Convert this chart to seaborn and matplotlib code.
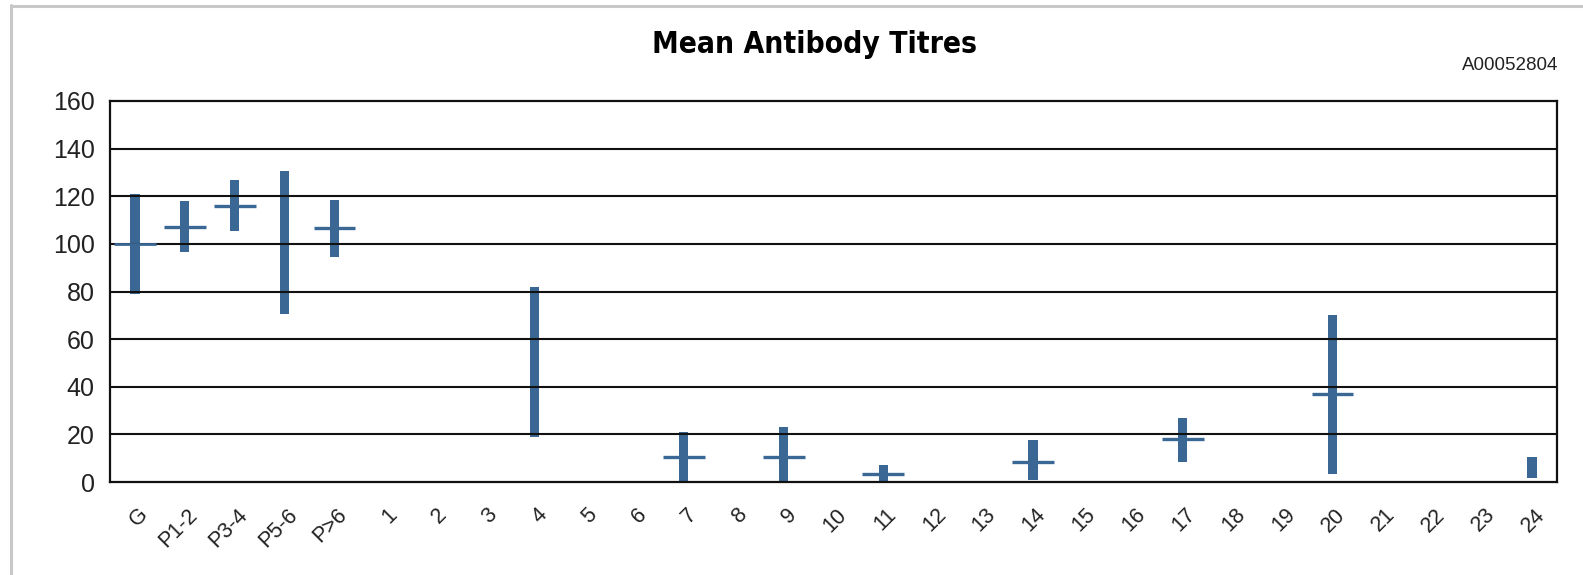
import matplotlib
matplotlib.use("Agg")
import matplotlib.pyplot as plt
from matplotlib.lines import Line2D
from matplotlib.transforms import ScaledTranslation
import numpy as np
import pandas as pd
import seaborn as sns

# Groups shown along the x axis (G, parity groups, then weeks 1-24)
categories = ["G", "P1-2", "P3-4", "P5-6", "P>6"] + [str(i) for i in range(1, 25)]

# Groups that have a measured range
range_groups = ["G", "P1-2", "P3-4", "P5-6", "P>6", "4", "7", "9", "11", "14", "17", "20", "24"]
range_low = [79, 96.5, 105.5, 70.5, 94.5, 19, 0, 0, 0, 1, 8.5, 3.5, 1.5]
range_high = [121, 118, 127, 130.5, 118.5, 82, 21, 23, 7, 17.5, 27, 70, 10.5]

# Groups that have a mean marker
mean_groups = ["G", "P1-2", "P3-4", "P>6", "7", "9", "11", "14", "17", "20"]
mean_values = [100, 107, 116, 106.5, 10.5, 10.5, 3.5, 8.5, 18, 37]

y_ticks = [0, 20, 40, 60, 80, 100, 120, 140, 160]

BLUE = "#3B6795"
W, H = 1583, 575

sns.set_theme(style="white")
plt.rcParams["font.family"] = ["Liberation Sans", "DejaVu Sans"]

fig = plt.figure(figsize=(W / 100, H / 100), dpi=100)
fig.patch.set_facecolor("white")
ax = fig.add_axes([110 / W, (H - 482) / H, 1447 / W, 381 / H])

df = pd.DataFrame({
    "group": range_groups,
    "span": np.array(range_high) - np.array(range_low),
})

# Low-high ranges as floating bars
sns.barplot(data=df, x="group", y="span", order=categories, color=BLUE,
            saturation=1, width=0.185, bottom=np.array(range_low),
            linewidth=0, ax=ax)

# Mean markers as short horizontal strokes
pos = np.array([categories.index(g) for g in mean_groups], dtype=float)
stroke = [2.0 if g == "G" else 2.4 for g in mean_groups]
ax.hlines(mean_values, pos - 0.42, pos + 0.42, colors=BLUE, linewidths=stroke, zorder=4)

ax.set_ylim(0, 160)
ax.set_xlim(-0.5, len(categories) - 0.5)
ax.set_yticks(y_ticks)
ax.set_yticklabels([str(v) for v in y_ticks], fontsize=18, color="#222222")
for v in y_ticks[1:-1]:
    ax.axhline(v, color="#111111", linewidth=1.5, zorder=1)
ax.set_axisbelow(True)
ax.set_xlabel("")
ax.set_ylabel("")
for s in ax.spines.values():
    s.set_visible(True)
    s.set_color("#111111")
    s.set_linewidth(1.6)
ax.tick_params(axis="y", length=0, pad=11)
ax.tick_params(axis="x", length=0, pad=16)

ax.set_xticks(range(len(categories)))
ax.set_xticklabels(categories, fontsize=15.5, color="#222222",
                   rotation=45, ha="right", va="top")
offset = ScaledTranslation(17 / 100, 0, fig.dpi_scale_trans)
for lbl in ax.get_xticklabels():
    lbl.set_transform(lbl.get_transform() + offset)

fig.text(814 / W, 1 - 44.5 / H, "Mean Antibody Titres", ha="center", va="center",
         fontsize=21.5, fontweight="bold", fontstretch="condensed",
         family=["DejaVu Sans", "Liberation Sans"],
         color="black")
fig.text(1558 / W, 1 - 66 / H, "A00052804", ha="right", va="center",
         fontsize=13.5, color="#222222")

# Light grey frame on the left and top edges
fig.add_artist(Line2D([11 / W, 11 / W], [0, 1 - 5 / H], transform=fig.transFigure,
                      color="#C8C8C8", linewidth=2.2))
fig.add_artist(Line2D([11 / W, 1], [1 - 6 / H, 1 - 6 / H], transform=fig.transFigure,
                      color="#C8C8C8", linewidth=2.2))

fig.savefig("out.png", dpi=100, facecolor="white")
